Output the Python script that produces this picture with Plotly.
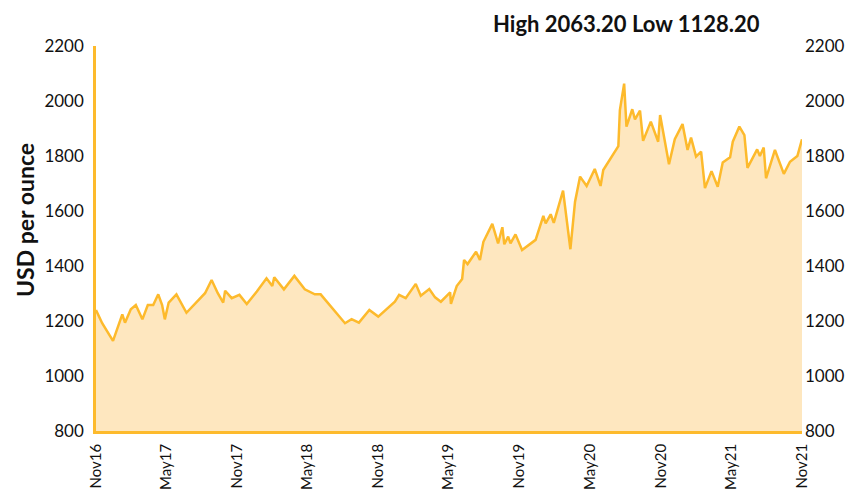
import plotly.graph_objects as go

# Gold price, USD per ounce, Nov 2016 - Nov 2021
dates = [
    "2016-11-01", "2016-11-17", "2016-12-15", "2017-01-08", "2017-01-15", "2017-01-30",
    "2017-02-12", "2017-03-01", "2017-03-15", "2017-03-29", "2017-04-11", "2017-04-21",
    "2017-04-28", "2017-05-08", "2017-05-28", "2017-06-23", "2017-08-10", "2017-08-27",
    "2017-09-12", "2017-09-26", "2017-10-01", "2017-10-18", "2017-11-07", "2017-11-26",
    "2017-12-22", "2018-01-16", "2018-01-31", "2018-02-05", "2018-03-02", "2018-03-29",
    "2018-04-25", "2018-05-21", "2018-06-05", "2018-08-07", "2018-08-24", "2018-09-12",
    "2018-10-09", "2018-11-01", "2018-12-14", "2018-12-25", "2019-01-11", "2019-02-06",
    "2019-02-19", "2019-03-13", "2019-03-28", "2019-04-12", "2019-05-06", "2019-05-08",
    "2019-05-23", "2019-06-06", "2019-06-11", "2019-06-20", "2019-07-12", "2019-07-22",
    "2019-07-31", "2019-08-23", "2019-09-07", "2019-09-18", "2019-09-23", "2019-10-03",
    "2019-10-09", "2019-10-22", "2019-11-08", "2019-12-13", "2020-01-02", "2020-01-08",
    "2020-01-21", "2020-01-29", "2020-02-22", "2020-03-12", "2020-03-24", "2020-04-06",
    "2020-04-23", "2020-05-14", "2020-05-29", "2020-06-05", "2020-07-14", "2020-07-18",
    "2020-07-29", "2020-08-04", "2020-08-19", "2020-08-26", "2020-09-08", "2020-09-16",
    "2020-10-06", "2020-10-25", "2020-10-30", "2020-11-22", "2020-12-07", "2020-12-27",
    "2021-01-09", "2021-01-18", "2021-01-31", "2021-02-13", "2021-02-23", "2021-03-12",
    "2021-03-28", "2021-04-10", "2021-04-29", "2021-05-06", "2021-05-23", "2021-06-05",
    "2021-06-13", "2021-07-08", "2021-07-15", "2021-07-25", "2021-07-31", "2021-08-23",
    "2021-09-15", "2021-10-01", "2021-10-20", "2021-11-01",
]
prices = [
    1240, 1192, 1128, 1224, 1194, 1243,
    1258, 1206, 1258, 1258, 1297, 1258,
    1206, 1267, 1297, 1230, 1301, 1349,
    1301, 1267, 1310, 1283, 1295, 1262,
    1307, 1355, 1327, 1359, 1315, 1364,
    1315, 1297, 1297, 1192, 1207, 1194,
    1240, 1216, 1270, 1295, 1283, 1335,
    1292, 1316, 1286, 1270, 1304, 1262,
    1327, 1353, 1422, 1407, 1452, 1422,
    1488, 1553, 1482, 1541, 1479, 1507,
    1482, 1515, 1458, 1495, 1582, 1555,
    1588, 1557, 1674, 1461, 1634, 1725,
    1691, 1753, 1691, 1749, 1836, 1967,
    2063, 1907, 1970, 1933, 1965, 1855,
    1925, 1852, 1949, 1770, 1861, 1916,
    1822, 1867, 1798, 1816, 1683, 1745,
    1688, 1776, 1795, 1852, 1907, 1876,
    1757, 1824, 1800, 1831, 1719, 1822,
    1735, 1779, 1800, 1861,
]

tick_dates = ["2016-11-01", "2017-05-01", "2017-11-01", "2018-05-01", "2018-11-01", "2019-05-01",
              "2019-11-01", "2020-05-01", "2020-11-01", "2021-05-01", "2021-11-01"]
tick_labels = ["Nov16", "May17", "Nov17", "May18", "Nov18", "May19",
               "Nov19", "May20", "Nov20", "May21", "Nov21"]
y_ticks = [800, 1000, 1200, 1400, 1600, 1800, 2000, 2200]

line_color = "#FDBA2C"
fill_color = "#FEE7BF"
font = "Lato"

fig = go.Figure()
fig.add_trace(go.Scatter(
    x=dates, y=prices, mode="lines",
    line=dict(color=line_color, width=2.5),
    fill="tozeroy", fillcolor=fill_color,
    showlegend=False,
))
# invisible copy so the right-hand axis gets drawn
fig.add_trace(go.Scatter(
    x=dates, y=prices, mode="lines", yaxis="y2",
    line=dict(color="rgba(0,0,0,0)", width=0),
    showlegend=False, hoverinfo="skip",
))

# page has an 8px body margin, so margins are shifted to compensate
fig.update_layout(
    width=853, height=496,
    margin=dict(l=88, r=59, t=38, b=73),
    plot_bgcolor="white", paper_bgcolor="white",
    font=dict(family=font, color="#111111"),
    xaxis=dict(
        range=["2016-11-01", "2021-11-01"],
        tickvals=tick_dates, ticktext=tick_labels, tickangle=-90,
        tickfont=dict(size=15), ticklabelstandoff=4,
        showgrid=False, zeroline=False,
        showline=True, linecolor=line_color, linewidth=2.5,
        ticks="",
    ),
    yaxis=dict(
        range=[800, 2200], tickvals=y_ticks, tickfont=dict(size=17),
        ticklabelstandoff=6, automargin=False,
        showgrid=False, zeroline=False,
        showline=True, linecolor=line_color, linewidth=2.5,
        ticks="",
    ),
    yaxis2=dict(
        range=[800, 2200], tickvals=y_ticks, tickfont=dict(size=17),
        ticklabelstandoff=2, automargin=False,
        overlaying="y", side="right",
        showgrid=False, zeroline=False, showline=False, ticks="",
    ),
)

# header line with the period's high and low
fig.add_annotation(
    text="<b>High 2063.20 Low 1128.20</b>",
    xref="paper", yref="paper", x=0.752, y=1.058,
    xanchor="center", yanchor="middle", showarrow=False,
    font=dict(size=22, color="#111111"),
)
fig.add_annotation(
    text="<b>USD per ounce</b>", textangle=-90,
    xref="paper", yref="paper", x=-0.1006, y=0.548,
    xanchor="center", yanchor="middle", showarrow=False,
    font=dict(size=23, color="#111111"),
)

fig.write_html("out.html")
